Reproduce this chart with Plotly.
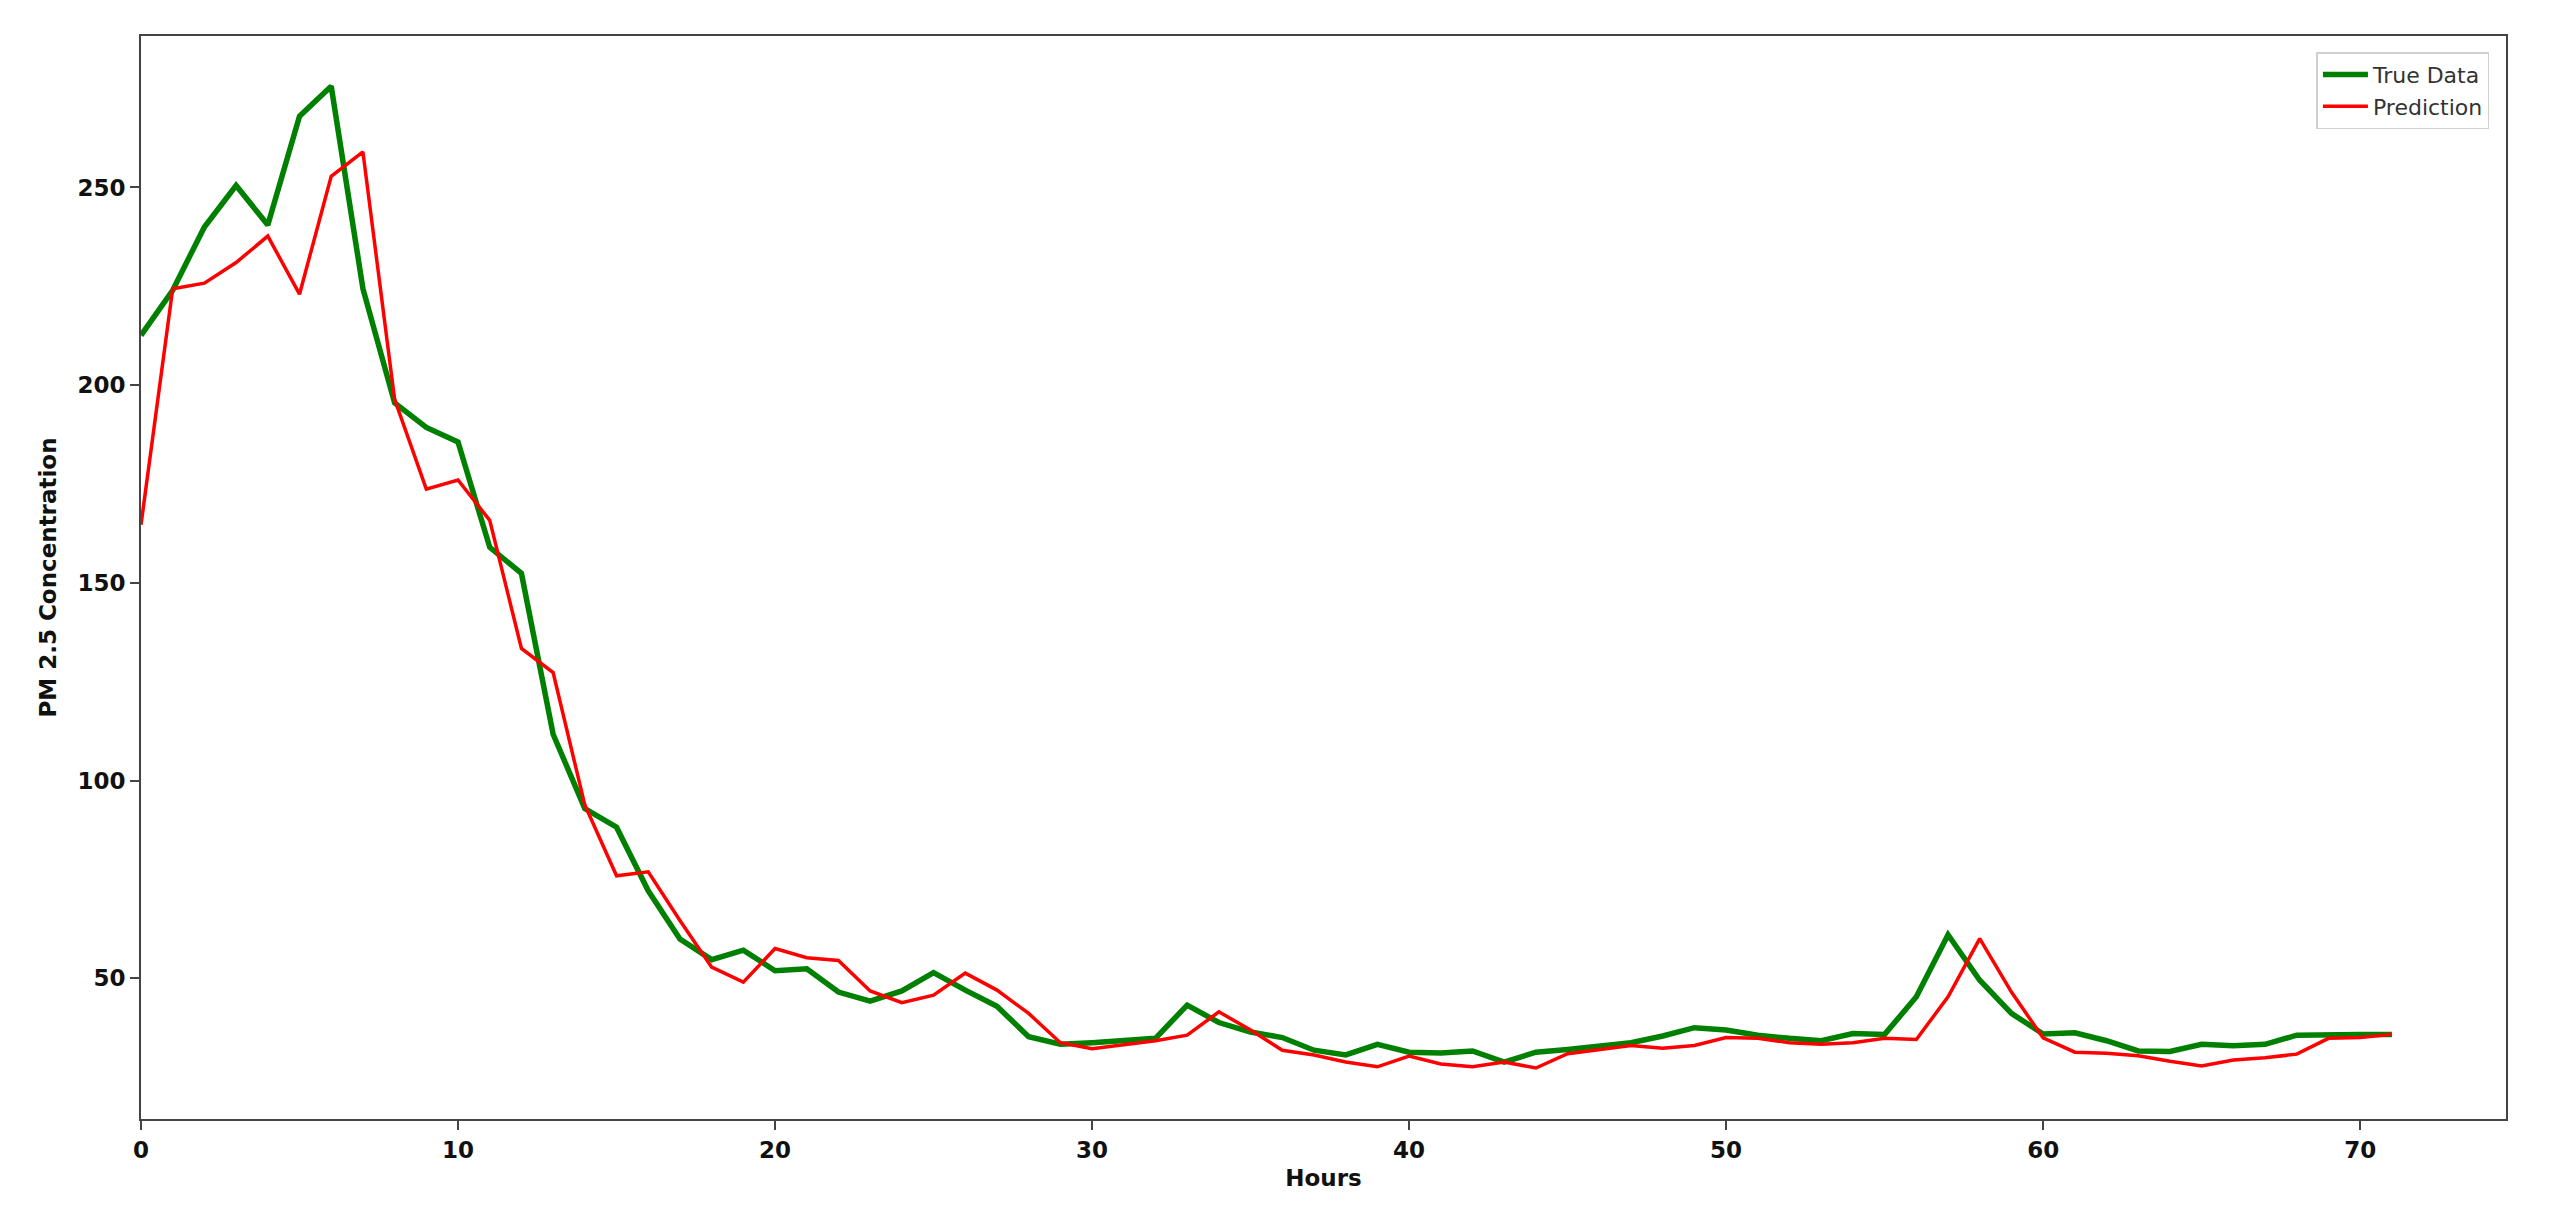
import plotly.graph_objects as go

hours = list(range(72))

true_data = [212.6, 224.0, 240.0, 250.5, 240.5, 268.0, 275.6, 224.4, 195.5, 189.3,
             185.6, 159.0, 152.4, 111.7, 92.9, 88.2, 72.1, 59.9, 54.7, 57.1,
             51.9, 52.4, 46.5, 44.2, 46.8, 51.4, 47.0, 42.9, 35.2, 33.3,
             33.7, 34.2, 34.8, 43.2, 38.8, 36.4, 35.0, 31.8, 30.6, 33.3,
             31.3, 31.1, 31.6, 28.8, 31.3, 32.0, 33.0, 33.7, 35.4, 37.5,
             36.9, 35.6, 34.8, 34.2, 36.0, 35.8, 45.3, 61.0, 49.5, 41.1,
             35.9, 36.2, 34.2, 31.6, 31.5, 33.3, 32.9, 33.3, 35.6, 35.8, 35.8, 35.8]

prediction = [164.7, 224.4, 225.8, 231.0, 237.7, 223.0, 252.8, 259.0, 196.4, 173.7,
              176.0, 165.8, 133.4, 127.3, 93.8, 75.9, 76.9, 64.6, 52.8, 49.0,
              57.5, 55.2, 54.5, 46.8, 43.8, 45.7, 51.3, 47.0, 41.1, 33.7,
              32.2, 33.3, 34.2, 35.6, 41.5, 36.9, 31.8, 30.6, 28.8, 27.6,
              30.3, 28.3, 27.6, 28.8, 27.3, 30.9, 31.9, 33.0, 32.3, 33.0,
              35.0, 34.8, 33.7, 33.3, 33.7, 34.8, 34.5, 45.3, 60.0, 46.5,
              34.9, 31.3, 31.0, 30.4, 29.0, 27.8, 29.3, 29.9, 30.8, 34.8, 35.0, 35.8]

x_ticks = [0, 10, 20, 30, 40, 50, 60, 70]
y_ticks = [50, 100, 150, 200, 250]

fig = go.Figure()
fig.add_trace(go.Scatter(x=hours, y=true_data, mode="lines", name="True Data",
                         line=dict(color="#008000", width=5.5)))
fig.add_trace(go.Scatter(x=hours, y=prediction, mode="lines", name="Prediction",
                         line=dict(color="#ff0000", width=3.5)))

axis_common = dict(
    showline=True, linecolor="#444", linewidth=2, mirror=True,
    showgrid=False, zeroline=False, ticks="outside", ticklen=9, tickwidth=2,
    tickcolor="#444",
    tickfont=dict(family="DejaVu Sans", size=23, color="#111", weight="bold"),
)

fig.update_layout(
    width=2550, height=1230,
    margin=dict(l=141, r=44, t=36, b=111),
    paper_bgcolor="white", plot_bgcolor="white",
    xaxis=dict(range=[0, 74.6], tickvals=x_ticks,
               title=dict(text="Hours", standoff=8,
                          font=dict(family="DejaVu Sans", size=23, color="#111", weight="bold")),
               **axis_common),
    yaxis=dict(range=[14.4, 288.3], tickvals=y_ticks,
               title=dict(text="PM 2.5 Concentration", standoff=14,
                          font=dict(family="DejaVu Sans", size=23, color="#111", weight="bold")),
               **axis_common),
    legend=dict(x=0.993, y=0.985, xanchor="right", yanchor="top",
                bgcolor="rgba(255,255,255,0.9)", bordercolor="#d0d0d0", borderwidth=1.5,
                font=dict(family="DejaVu Sans", size=22, color="#333"),
                itemwidth=45),
    showlegend=True,
)

fig.write_html("out.html", config={"displayModeBar": False},
               post_script="document.body.style.margin='0';document.body.style.overflow='hidden';")
